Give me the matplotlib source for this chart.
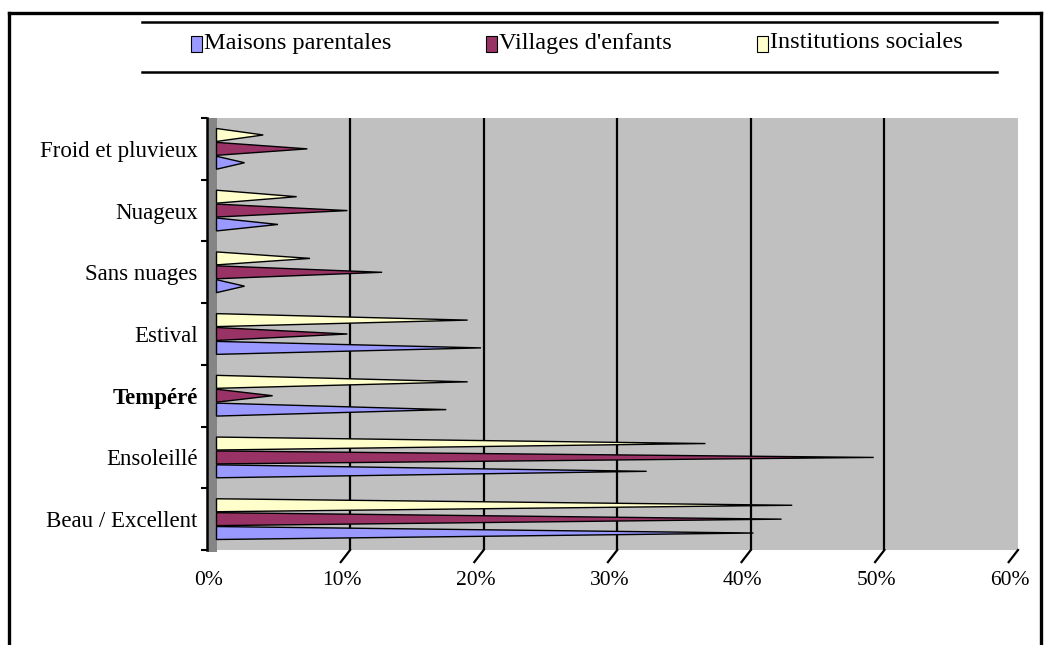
import matplotlib
matplotlib.use("Agg")
import matplotlib.pyplot as plt
from matplotlib.patches import Polygon, Rectangle
from matplotlib.lines import Line2D
import matplotlib.transforms as mtransforms

# ---- data -------------------------------------------------------------
categories = ["Beau / Excellent", "Ensoleillé", "Tempéré", "Estival",
              "Sans nuages", "Nuageux", "Froid et pluvieux"]
series_names = ["Maisons parentales", "Villages d'enfants", "Institutions sociales"]
maisons_parentales = [40.2, 32.2, 17.2, 19.8, 2.1, 4.6, 2.1]
villages_enfants = [42.3, 49.2, 4.2, 9.8, 12.4, 9.8, 6.8]
institutions_sociales = [43.1, 36.6, 18.8, 18.8, 7.0, 6.0, 3.5]
xticks = [0, 10, 20, 30, 40, 50, 60]
xtick_labels = ["0%", "10%", "20%", "30%", "40%", "50%", "60%"]

# ---- style ------------------------------------------------------------
plt.rcParams["font.family"] = ["Liberation Serif", "DejaVu Serif"]
colors = ["#9999FF", "#993366", "#FFFFCC"]
offsets = [-0.225, 0.0, 0.225]      # blue bottom, maroon middle, yellow top
half_h = 0.105                      # half thickness of each pyramid base

W, H = 1048, 645
fig = plt.figure(figsize=(W / 100, H / 100), dpi=100)


def fx(px):
    return px / W


def fy(py):
    return 1 - py / H


ax = fig.add_axes([fx(216.5), fy(550), fx(1018) - fx(216.5), fy(118) - fy(550)])
ax.set_facecolor("#C0C0C0")
ax.set_xlim(0, 60)
ax.set_ylim(-0.5, len(categories) - 0.5)

# back-wall gridlines
for v in xticks[1:-1]:
    ax.axvline(v, color="black", lw=1.6, zorder=1)

# pyramid-shaped bars
all_series = [maisons_parentales, villages_enfants, institutions_sociales]
for values, off, col in zip(all_series, offsets, colors):
    for i, v in enumerate(values):
        yc = i + off
        poly = Polygon([(0, yc - half_h), (v, yc), (0, yc + half_h)],
                       closed=True, facecolor=col, edgecolor="black",
                       lw=1.0, joinstyle="miter", zorder=3, clip_on=False)
        ax.add_patch(poly)

# axes frame
for s in ("top", "right", "bottom"):
    ax.spines[s].set_visible(False)
ax.spines["left"].set_position(("outward", 6.5))
ax.spines["left"].set_linewidth(1.8)

ax.set_yticks(range(len(categories)))
ax.set_yticklabels(categories, fontsize=16.5)
for lbl in ax.get_yticklabels():
    if lbl.get_text() == "Tempéré":
        lbl.set_fontweight("bold")
ax.set_yticks([i - 0.5 for i in range(len(categories) + 1)], minor=True)
ax.tick_params(axis="y", which="major", length=0, pad=7)
ax.tick_params(axis="y", which="minor", length=4, width=1.5, color="black")

ax.set_xticks(xticks)
ax.set_xticklabels(xtick_labels, fontsize=15.5)
ax.tick_params(axis="x", length=0, pad=15)
shift = mtransforms.ScaledTranslation(-8 / 100, 0, fig.dpi_scale_trans)
for lbl in ax.get_xticklabels():
    lbl.set_transform(lbl.get_transform() + shift)

# slanted floor ticks
blend = mtransforms.blended_transform_factory(ax.transData, ax.transAxes)
for v in xticks[1:]:
    ax.add_line(Line2D([v, v - 0.7], [0.0, -0.028], transform=blend,
                       color="black", lw=1.6, clip_on=False))

# dark side wall between axis line and plotting area
fig.patches.append(Rectangle((fx(208), fy(552)), fx(216.5) - fx(208), fy(118) - fy(552),
                             transform=fig.transFigure, facecolor="#858585",
                             edgecolor="none", zorder=-1))

# outer frame
frame_kw = dict(transform=fig.transFigure, color="black", lw=2.4)
fig.lines.append(Line2D([fx(9), fx(1041)], [fy(13), fy(13)], **frame_kw))
fig.lines.append(Line2D([fx(9), fx(9)], [fy(13), fy(645)], **frame_kw))
fig.lines.append(Line2D([fx(1041), fx(1041)], [fy(13), fy(645)], **frame_kw))

# legend band
band_kw = dict(transform=fig.transFigure, color="black", lw=1.8)
fig.lines.append(Line2D([fx(142), fx(997)], [fy(22), fy(22)], **band_kw))
fig.lines.append(Line2D([fx(142), fx(997)], [fy(72), fy(72)], **band_kw))
swatch_x = [191, 486, 757]
text_x = [204, 499, 770]
for sx, tx, name, col in zip(swatch_x, text_x, series_names, colors):
    fig.patches.append(Rectangle((fx(sx), fy(52)), fx(sx + 11) - fx(sx), fy(36) - fy(52),
                                 transform=fig.transFigure, facecolor=col,
                                 edgecolor="black", lw=0.8))
    fig.text(fx(tx), fy(43), name, fontsize=17.5, va="center", ha="left")

fig.savefig("out.png", dpi=100)
